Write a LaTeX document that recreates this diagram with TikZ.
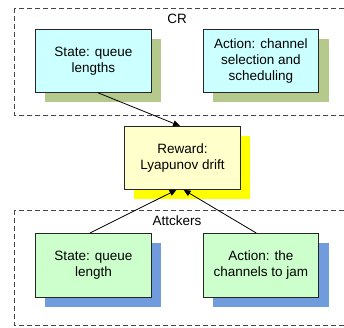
\documentclass[tikz,border=0pt]{standalone}
\usepackage{fontspec}
\setmainfont{Liberation Sans}
\usetikzlibrary{calc,arrows.meta}
\definecolor{cyanfill}{RGB}{204,255,255}
\definecolor{greenshadow}{RGB}{181,201,140}
\definecolor{yellowfill}{RGB}{255,255,204}
\definecolor{yellowshadow}{RGB}{255,255,0}
\definecolor{greenfill}{RGB}{204,255,204}
\definecolor{blueshadow}{RGB}{112,155,220}
\definecolor{dashgray}{RGB}{70,70,70}
\tikzset{
  boxnode/.style={draw=black!85, line width=0.8pt, minimum width=116pt, minimum height=63pt, inner sep=0pt,
    align=center, font=\fontsize{13.5pt}{16pt}\selectfont, anchor=north west},
  group/.style={draw=dashgray, line width=0.8pt, dash pattern=on 5pt off 3pt},
  conn/.style={draw=black, line width=0.8pt, -{Triangle[length=7pt,width=6pt]}},
  lbl/.style={font=\fontsize{13.5pt}{16pt}\selectfont, inner sep=0pt}
}
\begin{document}
\begin{tikzpicture}[x=1pt,y=-1pt]
\useasboundingbox (0,0) rectangle (344,327);
\clip (0,0) rectangle (344,327);
\fill[white] (0,0) rectangle (344,327);
% groups
\draw[group] (14,8) rectangle (360,115);
\draw[group] (14,210) rectangle (360,325);
\node[lbl] (crl) at (177,19) {CR};
\node[lbl] (atl) at (177,221) {Attckers};
% shadows
\fill[greenshadow] (45,39) rectangle (161,102);
\fill[greenshadow] (213,39) rectangle (329,102);
\fill[yellowshadow] (134,136) rectangle (250,199);
\fill[blueshadow] (45,243) rectangle (161,307);
\fill[blueshadow] (213,243) rectangle (329,307);
% boxes
\node[boxnode, fill=cyanfill] (s1) at (35,29) {State: queue\\lengths};
\node[boxnode, fill=cyanfill, minimum width=115pt] (a1) at (203,29) {Action: channel\\selection and\\scheduling};
\node[boxnode, fill=yellowfill] (r) at (124,126) {Reward:\\Lyapunov drift};
\node[boxnode, fill=greenfill, minimum height=64pt] (s2) at (35,233) {State: queue\\length};
\node[boxnode, fill=greenfill, minimum width=115pt, minimum height=64pt] (a2) at (203,233) {Action: the\\channels to jam};
% connectors
\draw[conn] ($(s1.south west)!0.54!(s1.south east)$) -- ($(r.north west)!0.48!(r.north east)$);
\draw[conn] ($(s2.north west)!0.47!(s2.north east)$) -- ($(r.south west)!0.45!(r.south east)$);
\draw[conn] ($(a2.north west)!0.46!(a2.north east)$) -- ($(r.south west)!0.51!(r.south east)$);
\end{tikzpicture}
\end{document}
